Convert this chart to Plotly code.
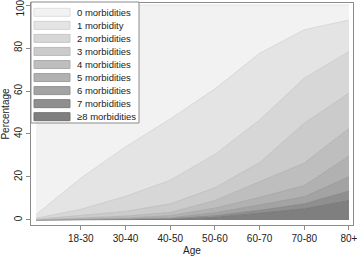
import plotly.graph_objects as go

# ---- data (percent of people with k morbidities, per age group) ----
age_index = [0, 1, 2, 3, 4, 5, 6, 7]
tick_labels = ["18-30", "30-40", "40-50", "50-60", "60-70", "70-80", "80+"]
tick_positions = [1, 2, 3, 4, 5, 6, 7]
y_ticks = [0, 20, 40, 60, 80, 100]

series_names = ["0 morbidities", "1 morbidity", "2 morbidities", "3 morbidities",
                "4 morbidities", "5 morbidities", "6 morbidities", "7 morbidities",
                "\u22658 morbidities"]

m0 = [97.5, 80.5, 66.0, 53.0, 39.0, 22.5, 11.5, 7.0]
m1 = [1.7, 14.5, 23.0, 28.5, 30.5, 31.0, 22.5, 14.7]
m2 = [0.5, 3.0, 7.0, 11.0, 15.5, 19.8, 21.0, 19.3]
m3 = [0.2, 1.2, 2.2, 4.0, 6.0, 8.9, 18.5, 16.4]
m4 = [0.1, 0.4, 0.9, 1.5, 3.5, 7.3, 10.5, 12.9]
m5 = [0.0, 0.2, 0.4, 1.0, 2.2, 3.5, 5.2, 9.6]
m6 = [0.0, 0.1, 0.2, 0.4, 1.4, 2.5, 3.3, 6.7]
m7 = [0.0, 0.1, 0.2, 0.3, 0.8, 1.5, 2.3, 4.4]
m8 = [0.0, 0.0, 0.1, 0.3, 1.1, 3.0, 5.2, 9.0]

series_values = [m0, m1, m2, m3, m4, m5, m6, m7, m8]

fill_colors = ["#f2f2f2", "#e4e4e4", "#d7d7d7", "#cbcbcb", "#bebebe",
               "#b1b1b1", "#a3a3a3", "#8f8f8f", "#7f7f7f"]
line_colors = ["#dedede", "#d2d2d2", "#c6c6c6", "#bababa", "#adadad",
               "#a0a0a0", "#939393", "#7f7f7f", "#707070"]

FONT = "Liberation Sans, Arial, sans-serif"
W, H = 358, 257
ML, MR, MT, MB = 31, 5, 3, 32

fig = go.Figure()
# stack: bottom layer (>=8) first, 0 morbidities on top
for name, vals, fc, lc in reversed(list(zip(series_names, series_values, fill_colors, line_colors))):
    fig.add_trace(go.Scatter(
        x=age_index, y=vals, name=name, mode="lines",
        stackgroup="one", fillcolor=fc,
        line=dict(color=lc, width=0.8),
        showlegend=False, hoverinfo="skip"))

pw = W - ML - MR
ph = H - MT - MB


def px_x(x):
    return (x - ML) / pw


def px_y(y):
    return (H - MB - y) / ph


# manual legend (compact Stata-like)
shapes = []
annotations = []
shapes.append(dict(type="rect", xref="paper", yref="paper",
                   x0=px_x(31), x1=px_x(139), y0=px_y(123), y1=px_y(2),
                   fillcolor="white", line=dict(color="#8a8a8a", width=1), layer="above"))
for i, (name, fc, lc) in enumerate(zip(series_names, fill_colors, line_colors)):
    cy = 12.3 + 13.05 * i
    shapes.append(dict(type="rect", xref="paper", yref="paper",
                       x0=px_x(34), x1=px_x(70), y0=px_y(cy + 4), y1=px_y(cy - 4),
                       fillcolor=fc, line=dict(color=lc, width=1), layer="above"))
    annotations.append(dict(xref="paper", yref="paper", x=px_x(75), y=px_y(cy),
                            xanchor="left", yanchor="middle", showarrow=False,
                            text=name, font=dict(family=FONT, size=9.5, color="#222")))

# top tick label drawn separately, nudged down so it stays inside the image
y_tick_text = [str(v) for v in y_ticks[:-1]] + [""]
annotations.append(dict(xref="paper", yref="y", x=px_x(19.5), y=y_ticks[-1], yshift=-3,
                        xanchor="center", yanchor="middle", showarrow=False,
                        textangle=-90, text=str(y_ticks[-1]),
                        font=dict(family=FONT, size=10, color="#222")))

fig.update_layout(
    width=W, height=H,
    margin=dict(l=ML, r=MR, t=MT, b=MB, autoexpand=False),
    paper_bgcolor="white", plot_bgcolor="white",
    font=dict(family=FONT, size=10, color="#222"),
    shapes=shapes, annotations=annotations,
    xaxis=dict(range=[-0.115, 7.09], tickvals=tick_positions, ticktext=tick_labels,
               automargin=False, ticklabeloverflow="allow",
               showgrid=False, zeroline=False, showline=True, linecolor="#8c8c8c",
               linewidth=1, mirror=True, ticks="outside", ticklen=4, tickcolor="#8c8c8c",
               tickfont=dict(size=10), title=dict(text="Age", font=dict(size=10), standoff=3)),
    yaxis=dict(range=[-2.33, 100.93], tickvals=y_ticks, ticktext=y_tick_text,
               automargin=False, ticklabeloverflow="allow",
               showgrid=False, zeroline=False, showline=True, linecolor="#8c8c8c",
               linewidth=1, mirror=True, ticks="outside", ticklen=4, tickcolor="#8c8c8c",
               tickangle=-90, tickfont=dict(size=10),
               title=dict(text="Percentage", font=dict(size=10), standoff=2)),
)

fig.write_html("out.html", config={"displayModeBar": False},
               post_script="document.body.style.margin='0';document.body.style.padding='0';")
